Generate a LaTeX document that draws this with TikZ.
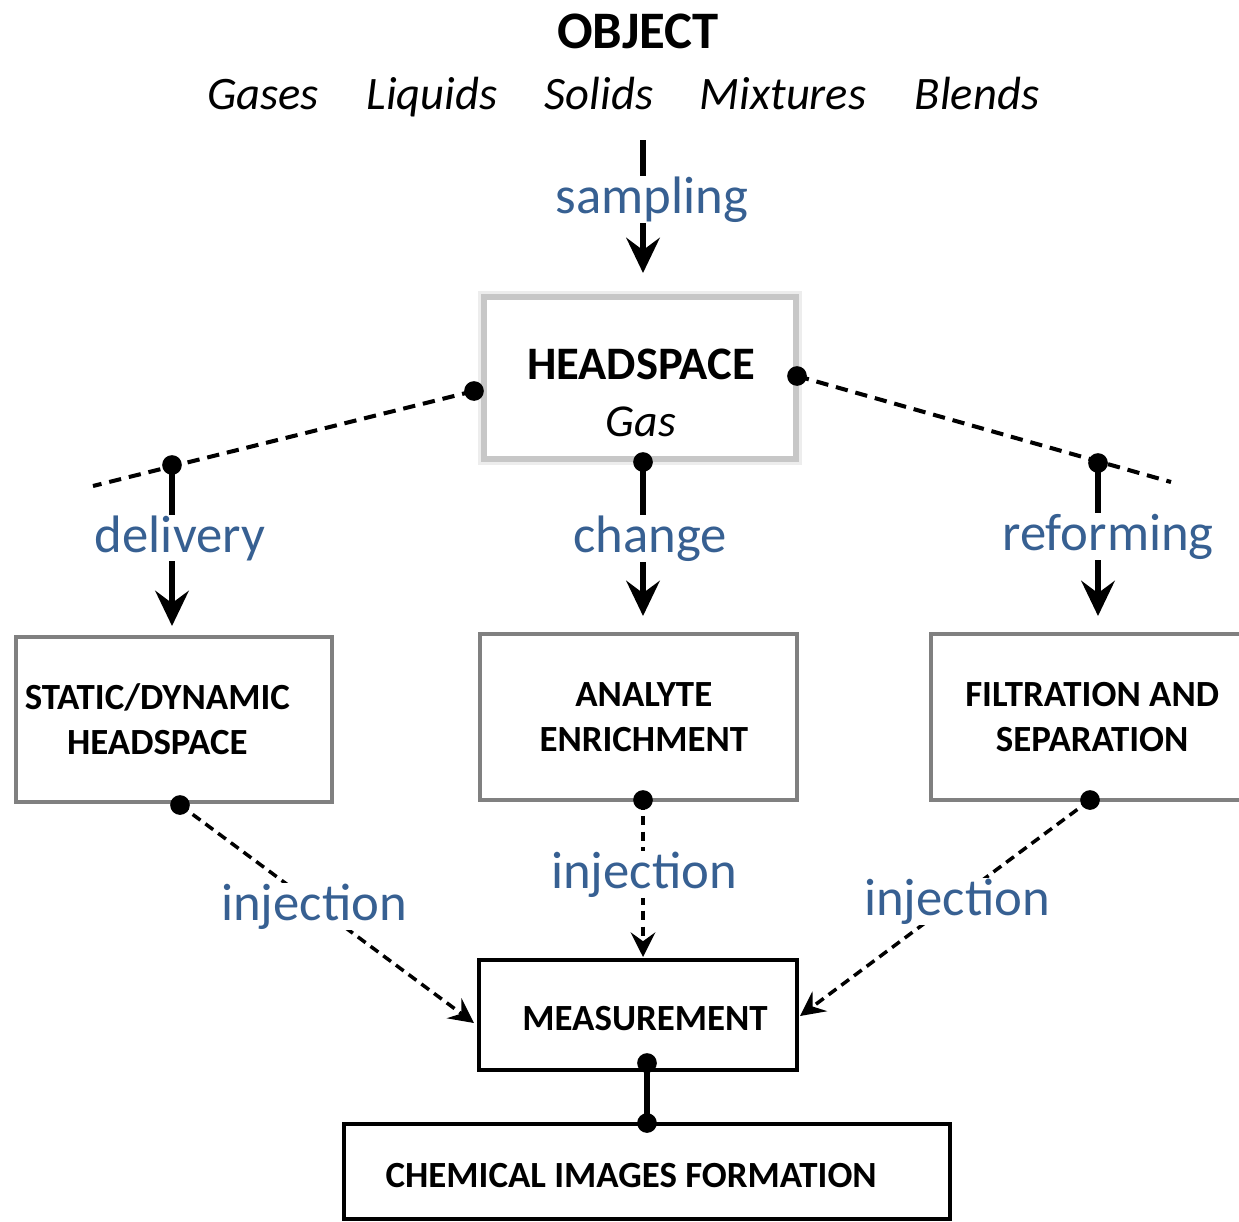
\documentclass[tikz,border=0pt]{standalone}
\usepackage{fontspec}
\setmainfont{Carlito}
\usetikzlibrary{arrows.meta}
\definecolor{labelblue}{HTML}{376092}
\newcommand{\drawDot}[1]{
    \fill (#1) circle (5.6pt)
}

\begin{document}
\begin{tikzpicture}[x=0.02cm,y=-0.02cm,
        boxbase/.style={draw=black!50, line width=1.8pt, fill=white, inner sep=0pt, align=center,
            font=\fontsize{21}{25.5}\selectfont\bfseries},
        blackbox/.style={boxbase, draw=black, line width=2.2pt, text height=18pt, text depth=0pt},
        verb/.style={text=labelblue, fill=white, inner xsep=2pt, inner ysep=0.5pt, anchor=base,
            font=\fontsize{30}{36}\selectfont},
        tie/.style={line width=2.3pt, dash pattern=on 7pt off 4.5pt},
        flow/.style={line width=3.2pt, -{Stealth[length=20pt,width=19pt,inset=7pt]}},
        inject/.style={line width=2pt, dash pattern=on 5.5pt off 3.5pt, -{Stealth[length=14pt,width=14pt,inset=5pt]}}]
    \useasboundingbox (0,0) rectangle (1239,1221);
    \clip (0,0) rectangle (1239,1221);

    % object and kinds
    \node[anchor=base, font=\fontsize{30}{36}\selectfont\bfseries] (object) at (638,48) {OBJECT};
    \foreach \kind/\xpos in {Gases/263, Liquids/432, Solids/599, Mixtures/783, Blends/977}
        \node[anchor=base, font=\fontsize{26.5}{32}\selectfont\itshape] (kind\kind) at (\xpos,109) {\kind};

    % headspace box with soft frame
    \draw[black!7, line width=7pt] (484,297) rectangle (796,459);
    \node[boxbase, draw=black!22, line width=3.2pt, minimum width=6.24cm, minimum height=3.24cm,
        font=\fontsize{26.5}{32}\selectfont] (headspace) at (640,378) {};
    \node[anchor=base, font=\fontsize{26.5}{32}\selectfont\bfseries] (hsTitle) at (641,379) {HEADSPACE};
    \node[anchor=base, font=\fontsize{26}{32}\selectfont\itshape] (hsGas) at (641,436) {Gas};

    % the three ways
    \node[boxbase, minimum width=6.32cm, minimum height=3.3cm] (static) at (174,719.5) {STATIC/DYNAMIC\hspace*{19pt}\\HEADSPACE\hspace*{19pt}};
    \node[boxbase, minimum width=6.34cm, minimum height=3.32cm] (analyte) at (638.5,717) {\hspace*{6pt}ANALYTE\\\hspace*{6pt}ENRICHMENT};
    \node[boxbase, minimum width=6.34cm, minimum height=3.32cm] (filtration) at (1089.5,717) {\hspace*{3pt}FILTRATION AND\\\hspace*{3pt}SEPARATION};
    \node[blackbox, minimum width=6.36cm, minimum height=2.2cm] (measurement) at (638,1015) {\hspace*{8pt}MEASUREMENT};
    \node[blackbox, minimum width=12.12cm, minimum height=1.9cm] (chemical) at (647,1171.5) {CHEMICAL IMAGES FORMATION\hspace*{18pt}};

    % junction points
    \coordinate (sampTop) at (643,140);
    \coordinate (sampEnd) at (643,273);
    \coordinate (hsW) at (474,391);
    \coordinate (hsE) at (797,376);
    \coordinate (hsS) at (643,462);
    \coordinate (tieL) at (93,486);
    \coordinate (tieR) at (1171,482);
    \coordinate (jL) at (172,465);
    \coordinate (jR) at (1098,463);
    \coordinate (staticIn) at (172,626);
    \coordinate (analyteIn) at (643,616);
    \coordinate (filtIn) at (1098,616);
    \coordinate (injL) at (180,805);
    \coordinate (injC) at (643,800);
    \coordinate (injR) at (1090,800);
    \coordinate (measL) at (474,1023);
    \coordinate (measC) at (643,957);
    \coordinate (measR) at (800,1016);
    \coordinate (measOut) at (647,1063);
    \coordinate (chemIn) at (647,1123);

    \draw[tie] (hsW) -- (tieL);
    \draw[tie] (hsE) -- (tieR);
    \draw[flow] (sampTop) -- (sampEnd);
    \draw[flow] (jL) -- (staticIn);
    \draw[flow] (hsS) -- (analyteIn);
    \draw[flow] (jR) -- (filtIn);
    \draw[inject] (injL) -- (measL);
    \draw[inject] (injC) -- (measC);
    \draw[inject] (injR) -- (measR);
    \draw[line width=3.2pt] (measOut) -- (chemIn);

    \drawDot{hsW};
    \drawDot{hsE};
    \drawDot{hsS};
    \drawDot{jL};
    \drawDot{jR};
    \drawDot{injL};
    \drawDot{injC};
    \drawDot{injR};
    \drawDot{measOut};
    \drawDot{chemIn};

    % labels
    \node[verb] (lblSampling) at (652,213) {sampling};
    \node[verb] (lblDelivery) at (180,552) {delivery};
    \node[verb] (lblChange) at (650,552) {change};
    \node[verb] (lblReforming) at (1108,550) {reforming};
    \node[verb] (lblInjL) at (314,920) {injection};
    \node[verb] (lblInjC) at (644,888) {injection};
    \node[verb] (lblInjR) at (957,915) {injection};
\end{tikzpicture}
\end{document}
